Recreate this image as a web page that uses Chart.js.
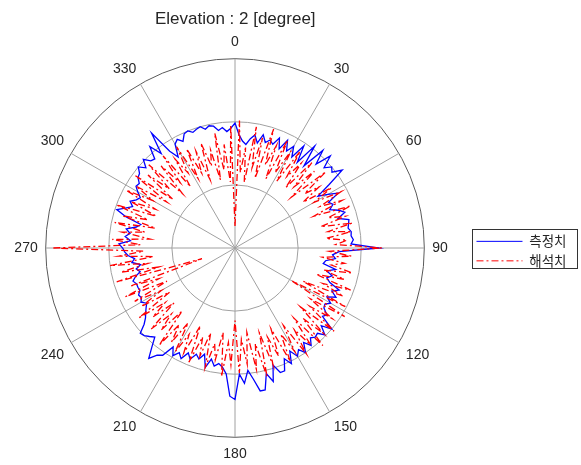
<!DOCTYPE html>
<html>
<head>
<meta charset="utf-8">
<script src="https://cdn.jsdelivr.net/npm/chart.js@4"></script>
<style>
  body { margin: 0; background: #fff; }
</style>
</head>
<body>
<canvas id="myChart" width="581" height="465"></canvas>
<script>
// 방위각 (2도 간격) 과 눈금 라벨
const angles = [];
for (let a = 0; a < 360; a += 2) angles.push(String(a));
const angleTicks = ['0', '30', '60', '90', '120', '150', '180', '210', '240', '270', '300', '330'];
const seriesNames = ['측정치', '해석치'];

// 측정치 (0, 2, 4 ... 358 도), 한 줄 = 20도
const measured = [
  19.8, 18.0, 17.0, 16.5, 17.5, 18.2, 17.0, 18.5, 17.4, 18.0,
  17.5, 18.8, 17.2, 19.0, 17.4, 18.6, 17.0, 19.5, 16.8, 20.5,
  17.0, 20.8, 18.5, 21.0, 19.0, 20.0, 19.5, 21.0, 18.0, 15.5,
  17.0, 18.5, 16.5, 17.0, 16.2, 17.5, 18.3, 17.0, 18.6, 18.4,
  18.2, 18.6, 18.5, 18.8, 18.4, 22.8, 16.5, 15.5, 16.0, 14.5,
  14.2, 16.3, 15.0, 16.0, 15.3, 16.0, 17.8, 16.8, 17.8, 16.5,
  17.5, 16.8, 17.0, 18.0, 17.6, 20.0, 18.4, 19.8, 18.8, 19.0,
  18.6, 19.6, 18.5, 20.0, 19.0, 19.8, 18.5, 20.4, 19.2, 21.0,
  21.0, 19.5, 22.0, 20.5, 23.0, 23.0, 21.0, 19.5, 21.5, 20.0,
  24.0, 23.5, 20.0, 19.0, 18.5, 19.0, 18.0, 19.5, 17.5, 18.5,
  17.9, 19.0, 18.2, 19.5, 18.8, 19.7, 18.5, 20.5, 21.0, 22.2,
  20.5, 19.0, 19.5, 20.0, 20.2, 18.8, 18.0, 17.5, 17.0, 16.5,
  17.2, 16.8, 17.0, 16.5, 16.6, 16.6, 17.0, 16.4, 15.5, 16.0,
  15.2, 16.5, 16.0, 17.0, 17.5, 17.8, 18.4, 16.6, 17.5, 16.8,
  17.5, 16.0, 15.4, 18.0, 19.7, 18.5, 17.5, 18.2, 17.4, 17.0,
  17.8, 18.5, 18.3, 19.0, 19.2, 20.0, 19.0, 20.2, 19.2, 19.0,
  21.0, 19.0, 22.5, 18.5, 17.0, 19.0, 19.5, 18.8, 19.8, 20.0,
  19.5, 19.8, 20.0, 19.4, 19.8, 19.6, 18.8, 19.2, 18.5, 19.0
];

// 해석치 (0, 2, 4 ... 358 도), 한 줄 = 20도
const analysis = [
  3.5, 20.2, 12.0, 16.0, 10.5, 19.5, 13.0, 18.0, 11.5, 19.8,
  14.0, 17.5, 12.0, 19.0, 13.5, 17.8, 12.5, 18.5, 14.0, 17.0,
  12.5, 18.2, 13.5, 17.5, 12.0, 18.8, 14.0, 16.5, 13.0, 18.0,
  14.5, 19.0, 15.0, 18.5, 13.5, 19.5, 15.5, 18.2, 14.0, 19.0,
  15.0, 18.5, 14.5, 17.8, 16.0, 23.3, 15.0, 18.5, 14.0, 17.5,
  15.5, 19.0, 14.5, 18.0, 13.5, 19.5, 15.0, 18.8, 12.0, 19.8,
  10.5, 20.5, 14.5, 19.0, 15.0, 20.5, 14.0, 19.5, 15.5, 20.8,
  14.5, 19.5, 16.0, 20.2, 14.5, 19.0, 15.5, 20.0, 14.0, 18.5,
  15.0, 19.5, 14.0, 21.0, 15.5, 19.5, 13.5, 18.5, 14.5, 19.8,
  11.5, 18.5, 15.0, 20.5, 13.5, 18.0, 15.5, 19.5, 14.0, 18.0,
  15.0, 19.5, 13.5, 18.5, 15.5, 19.0, 14.0, 18.0, 15.0, 19.5,
  13.0, 17.5, 14.5, 18.5, 13.0, 17.0, 14.0, 18.8, 12.5, 17.5,
  13.5, 18.0, 12.0, 19.0, 13.0, 17.5, 5.5, 19.5, 12.5, 18.5,
  14.0, 20.0, 13.0, 18.5, 14.5, 28.8, 15.0, 19.5, 13.5, 18.0,
  14.5, 19.5, 13.0, 18.5, 14.5, 20.0, 13.5, 18.0, 14.0, 19.5,
  15.0, 18.5, 13.0, 19.5, 12.5, 18.0, 14.0, 19.0, 12.0, 17.5,
  13.5, 18.5, 12.0, 17.0, 14.0, 18.5, 12.5, 17.5, 13.0, 16.5,
  11.5, 17.5, 13.5, 16.0, 11.0, 18.5, 12.5, 16.5, 10.5, 19.5
];

const labelFont = "'Liberation Sans', Arial, sans-serif";

// 범례 테두리
const legendBorder = {
  id: 'legendBorder',
  afterDraw(chart) {
    const boxes = chart.legend && chart.legend.legendHitBoxes;
    if (!boxes || !boxes.length) return;
    const c = chart.ctx;
    const left = Math.round(Math.min(...boxes.map(b => b.left)) - 4) + 0.5;
    const right = Math.round(Math.max(...boxes.map(b => b.left + b.width)) + 10) + 0.5;
    const top = Math.round(boxes[0].top - 6) + 0.5;
    const last = boxes[boxes.length - 1];
    const bottom = Math.round(last.top + last.height) + 0.5;
    c.save();
    c.strokeStyle = '#333';
    c.lineWidth = 1;
    c.strokeRect(left, top, right - left, bottom - top);
    c.restore();
  }
};

const ctx = document.getElementById('myChart').getContext('2d');
const myChart = new Chart(ctx, {
  type: 'radar',
  data: {
    labels: angles,
    datasets: [{
      label: seriesNames[0],
      data: measured,
      borderColor: '#0000ff',
      borderWidth: 1.3,
      fill: false,
      order: 1
    }, {
      label: seriesNames[1],
      data: analysis,
      borderColor: '#ff0000',
      borderWidth: 1.3,
      borderDash: [7, 3, 2, 3],
      fill: false,
      order: 0
    }]
  },
  options: {
    responsive: false,
    animation: false,
    layout: { padding: { left: 0, right: 4.5, bottom: 1 } },
    elements: {
      point: { radius: 0, hoverRadius: 0 },
      line: { tension: 0 }
    },
    scales: {
      r: {
        min: 0,
        max: 30,
        ticks: { display: false, stepSize: 10 },
        grid: {
          circular: true,
          color: c => c.index === 3 ? '#5a5a5a' : '#a0a0a0',
          lineWidth: 1
        },
        angleLines: {
          color: c => c.index % 15 === 0 ? '#a0a0a0' : 'transparent',
          lineWidth: c => c.index % 15 === 0 ? 1 : 0
        },
        pointLabels: {
          padding: 8,
          color: '#262626',
          font: { family: labelFont, size: 14 },
          // 90 라벨 뒤 여백으로 원 중심을 왼쪽으로 맞춤
          callback: label => angleTicks.includes(label) ? (label === '90' ? '90\u2002' : label) : ''
        }
      }
    },
    plugins: {
      title: {
        display: true,
        text: 'Elevation : 2 [degree]',
        fullSize: false,
        color: '#262626',
        font: { family: labelFont, size: 17, weight: 'normal' },
        padding: { top: 9, bottom: 4.5 }
      },
      legend: {
        position: 'right',
        title: { display: true, text: '', font: { size: 1 }, padding: { top: 37, bottom: 0 } },
        labels: {
          usePointStyle: true,
          pointStyle: 'line',
          pointStyleWidth: 46,
          padding: 6,
          color: '#262626',
          font: { family: "'Noto Sans CJK KR', sans-serif", size: 13.5 },
          sort: (a, b) => a.datasetIndex - b.datasetIndex,
          // 범례 선에도 데이터셋의 점선 패턴 적용
          generateLabels: chart => Chart.defaults.plugins.legend.labels.generateLabels(chart).map(item => {
            const ds = chart.data.datasets[item.datasetIndex];
            item.lineDash = ds.borderDash || [];
            item.strokeStyle = ds.borderColor;
            item.lineWidth = 1;
            return item;
          })
        }
      },
      tooltip: { enabled: false }
    }
  },
  plugins: [legendBorder]
});
</script>
</body>
</html>
